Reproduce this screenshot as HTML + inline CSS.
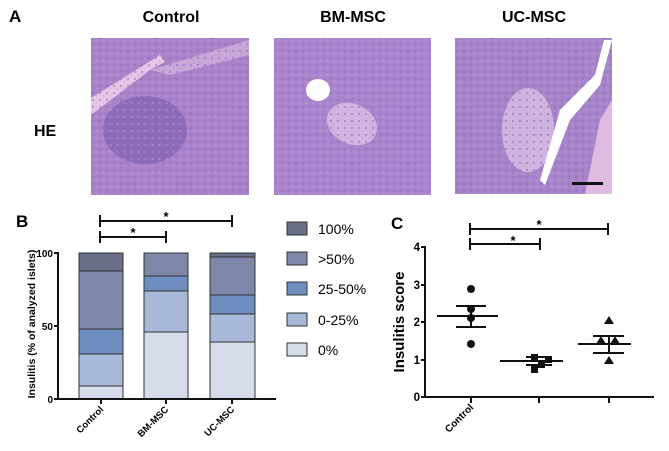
<!DOCTYPE html>
<html><head><meta charset="utf-8"><style>
html,body{margin:0;padding:0;background:#fff;}
svg{display:block;font-family:"Liberation Sans",Arial,sans-serif;}
</style></head><body>
<svg width="669" height="451" viewBox="0 0 669 451" xmlns="http://www.w3.org/2000/svg">
<defs>
<pattern id="sp" width="7" height="7" patternUnits="userSpaceOnUse">
<circle cx="2" cy="2" r="1.2" fill="#8d68b5" opacity="0.5"/><circle cx="5.5" cy="5" r="1" fill="#c7a6dc" opacity="0.5"/>
</pattern>
</defs>
<text x="9" y="22" font-size="17" font-weight="bold">A</text>
<text x="171" y="22" font-size="16" font-weight="bold" text-anchor="middle">Control</text>
<text x="353" y="22" font-size="16" font-weight="bold" text-anchor="middle">BM-MSC</text>
<text x="534" y="22" font-size="16" font-weight="bold" text-anchor="middle">UC-MSC</text>
<text x="34" y="136" font-size="16" font-weight="bold">HE</text>

<rect x="91" y="38" width="158" height="157" fill="#a982c9"/>
<ellipse cx="145" cy="130" rx="42" ry="34" fill="#8c6cb8"/>
<polygon points="91,98 91,115 150,70 165,62 160,55" fill="#e6c6e6"/>
<polygon points="150,70 249,40 249,55 170,75" fill="#c8a6d8"/>
<rect x="91" y="38" width="158" height="157" fill="url(#sp)"/>

<rect x="274" y="38" width="157" height="157" fill="#aa85cd"/>
<ellipse cx="352" cy="124" rx="26" ry="20" fill="#d3b3e0" transform="rotate(25 352 124)"/>
<rect x="274" y="38" width="157" height="157" fill="url(#sp)"/>
<ellipse cx="318" cy="90" rx="12" ry="11" fill="#fff"/>

<rect x="455" y="38" width="157" height="156" fill="#a584c9"/>
<ellipse cx="528" cy="130" rx="26" ry="42" fill="#cfb4df"/>
<rect x="455" y="38" width="157" height="156" fill="url(#sp)"/>
<polygon points="545,185 570,120 600,85 612,40 604,40 595,75 560,110 540,180" fill="#fff"/>
<polygon points="585,194 600,120 612,100 612,194" fill="#deb9e0"/>
<rect x="572" y="182" width="31" height="3" fill="#111"/>

<text x="16" y="227" font-size="17" font-weight="bold">B</text>
<g stroke="#111" stroke-width="2" fill="none">
<line x1="100" y1="221" x2="232" y2="221"/><line x1="100" y1="215" x2="100" y2="227"/><line x1="232" y1="215" x2="232" y2="227"/>
<line x1="100" y1="237" x2="166" y2="237"/><line x1="100" y1="231" x2="100" y2="243"/><line x1="166" y1="231" x2="166" y2="243"/>
</g>
<text x="166" y="221" font-size="13" font-weight="bold" text-anchor="middle">*</text>
<text x="133" y="237" font-size="13" font-weight="bold" text-anchor="middle">*</text>
<text transform="translate(35 324) rotate(-90)" font-size="10.5" font-weight="bold" text-anchor="middle">Insulitis (% of analyzed islets)</text>
<g font-size="10" font-weight="bold" text-anchor="end">
<text x="53" y="257">100</text><text x="53" y="330">50</text><text x="53" y="403">0</text>
</g>
<g stroke="#333" stroke-width="1">
<rect x="79" y="253" width="44" height="18" fill="#6b7089"/>
<rect x="79" y="271" width="44" height="58" fill="#7e87a8"/>
<rect x="79" y="329" width="44" height="25" fill="#6f8ebf"/>
<rect x="79" y="354" width="44" height="32" fill="#a9b9d9"/>
<rect x="79" y="386" width="44" height="13" fill="#d6dcea"/>
<rect x="144" y="253" width="44" height="23" fill="#7e87a8"/>
<rect x="144" y="276" width="44" height="15" fill="#6f8ebf"/>
<rect x="144" y="291" width="44" height="41" fill="#a9b9d9"/>
<rect x="144" y="332" width="44" height="67" fill="#d6dcea"/>
<rect x="210" y="253" width="45" height="4" fill="#6b7089"/>
<rect x="210" y="257" width="45" height="38" fill="#7e87a8"/>
<rect x="210" y="295" width="45" height="19" fill="#6f8ebf"/>
<rect x="210" y="314" width="45" height="28" fill="#a9b9d9"/>
<rect x="210" y="342" width="45" height="57" fill="#d6dcea"/>
</g>
<g stroke="#111" stroke-width="2">
<line x1="58" y1="252" x2="58" y2="400"/><line x1="57" y1="399" x2="276" y2="399"/>
<line x1="54" y1="253" x2="58" y2="253"/><line x1="54" y1="326" x2="58" y2="326"/><line x1="54" y1="399" x2="58" y2="399"/>
<line x1="101" y1="399" x2="101" y2="404"/><line x1="166" y1="399" x2="166" y2="404"/><line x1="232" y1="399" x2="232" y2="404"/>
</g>
<g font-size="9.5" font-weight="bold" text-anchor="end">
<text transform="translate(104 410) rotate(-45)">Control</text>
<text transform="translate(169 410) rotate(-45)">BM-MSC</text>
<text transform="translate(235 410) rotate(-45)">UC-MSC</text>
</g>
<g stroke="#333" stroke-width="1">
<rect x="287" y="222" width="20" height="13" fill="#6b7089"/>
<rect x="287" y="252" width="20" height="13" fill="#7e87a8"/>
<rect x="287" y="282" width="20" height="13" fill="#6f8ebf"/>
<rect x="287" y="313" width="20" height="13" fill="#a9b9d9"/>
<rect x="287" y="343" width="20" height="13" fill="#d6dcea"/>
</g>
<g font-size="14">
<text x="318" y="234">100%</text><text x="318" y="264">&gt;50%</text><text x="318" y="294">25-50%</text><text x="318" y="325">0-25%</text><text x="318" y="355">0%</text>
</g>

<text x="391" y="229" font-size="17" font-weight="bold">C</text>
<g stroke="#111" stroke-width="2" fill="none">
<line x1="470" y1="229" x2="608" y2="229"/><line x1="470" y1="223" x2="470" y2="235"/><line x1="608" y1="223" x2="608" y2="235"/>
<line x1="470" y1="244" x2="540" y2="244"/><line x1="470" y1="238" x2="470" y2="250"/><line x1="540" y1="238" x2="540" y2="250"/>
</g>
<text x="539" y="229" font-size="13" font-weight="bold" text-anchor="middle">*</text>
<text x="513" y="245" font-size="13" font-weight="bold" text-anchor="middle">*</text>
<text transform="translate(404 322) rotate(-90)" font-size="15" font-weight="bold" text-anchor="middle">Insulitis score</text>
<g font-size="11.5" font-weight="bold" text-anchor="end">
<text x="420" y="251">4</text><text x="420" y="289">3</text><text x="420" y="326">2</text><text x="420" y="364">1</text><text x="420" y="401">0</text>
</g>
<g stroke="#111" stroke-width="2">
<line x1="425" y1="246" x2="425" y2="398"/><line x1="424" y1="397" x2="654" y2="397"/>
<line x1="421" y1="247" x2="425" y2="247"/><line x1="421" y1="285" x2="425" y2="285"/><line x1="421" y1="322" x2="425" y2="322"/><line x1="421" y1="360" x2="425" y2="360"/><line x1="421" y1="397" x2="425" y2="397"/>
<line x1="471" y1="397" x2="471" y2="403"/><line x1="539" y1="397" x2="539" y2="403"/><line x1="609" y1="397" x2="609" y2="403"/>
<line x1="437" y1="316" x2="498" y2="316"/><line x1="471" y1="306" x2="471" y2="327"/>
<line x1="456" y1="306" x2="486" y2="306"/><line x1="456" y1="327" x2="486" y2="327"/>
<line x1="500" y1="361" x2="563" y2="361"/><line x1="526" y1="357" x2="552" y2="357"/><line x1="526" y1="365" x2="552" y2="365"/>
<line x1="578" y1="344" x2="631" y2="344"/><line x1="609" y1="336" x2="609" y2="353"/>
<line x1="593" y1="336" x2="624" y2="336"/><line x1="593" y1="353" x2="624" y2="353"/>
</g>
<g fill="#111">
<circle cx="471" cy="289" r="4"/><circle cx="471" cy="309" r="4"/><circle cx="471" cy="318" r="4"/><circle cx="471" cy="344" r="4"/>
<rect x="531" y="354" width="7" height="7"/><rect x="545" y="356" width="7" height="7"/><rect x="538" y="361" width="7" height="7"/><rect x="531" y="366" width="7" height="7"/>
<polygon points="609,316 614,324 604,324"/><polygon points="601,336 606,344 596,344"/><polygon points="615,336 620,344 610,344"/><polygon points="609,356 614,364 604,364"/>
</g>
<text transform="translate(474 408) rotate(-45)" font-size="10" font-weight="bold" text-anchor="end">Control</text>
</svg>
</body></html>
